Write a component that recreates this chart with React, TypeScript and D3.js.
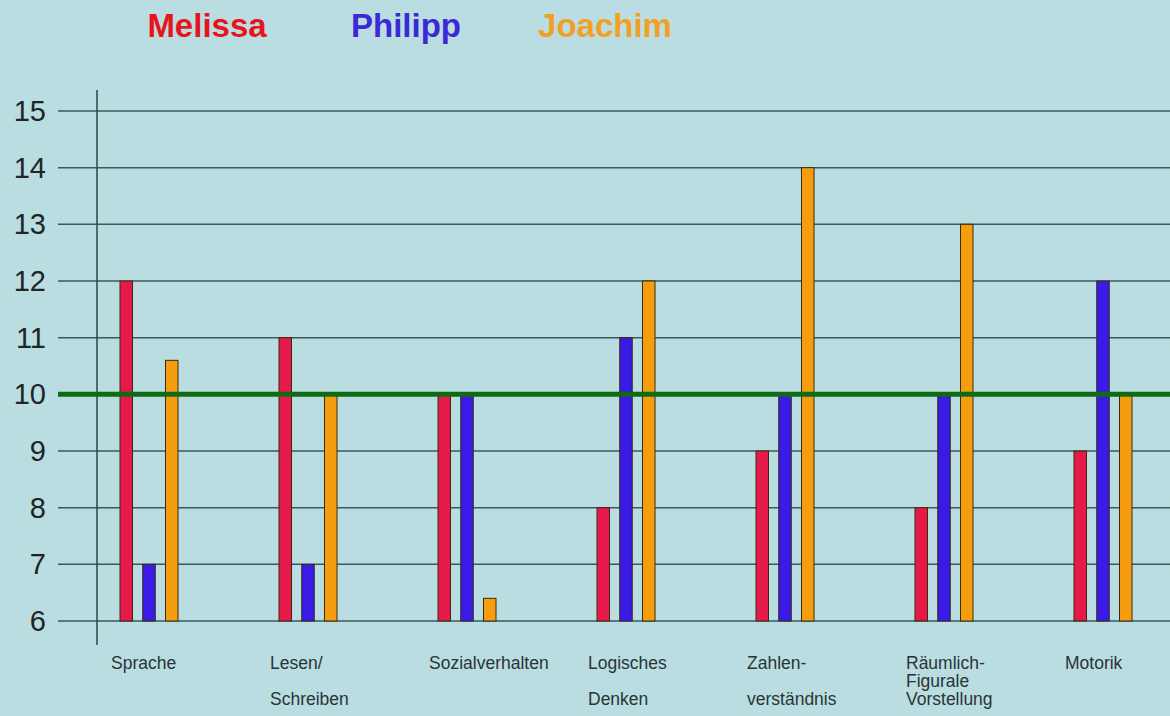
import React, { useEffect } from "react";
import * as d3 from "d3";

const categories = [
  ["Sprache"],
  ["Lesen/", "Schreiben"],
  ["Sozialverhalten"],
  ["Logisches", "Denken"],
  ["Zahlen-", "verständnis"],
  ["Räumlich-", "Figurale", "Vorstellung"],
  ["Motorik"],
];
const seriesNames = ["Melissa", "Philipp", "Joachim"];
const melissa = [12, 11, 10, 8, 9, 8, 9];
const philipp = [7, 7, 10, 11, 10, 10, 12];
const joachim = [10.6, 10, 6.4, 12, 14, 13, 10];
const yTicks = [6, 7, 8, 9, 10, 11, 12, 13, 14, 15];
const referenceValue = 10;

const W = 1170;
const H = 716;
const barColors = ["#e6194b", "#3a1ae6", "#f59d0e"];
const legendColors = ["#e8141c", "#3b28d6", "#f2a024"];
const font = "'Liberation Sans', Arial, sans-serif";

export default function App() {
  useEffect(() => {
    document.body.style.margin = "0";
  }, []);

  const series = [melissa, philipp, joachim];
  const idx = categories.map((_, i) => i);
  const x = d3.scalePoint<number>().domain(idx).range([149, 1103]);
  const inner = d3.scaleBand<number>().domain([0, 1, 2]).range([-29, 29]).paddingInner(0.45);
  const y = d3.scaleLinear().domain([6, 15]).range([621, 111]);
  const legendX = d3.scalePoint<number>().domain([0, 1, 2]).range([207, 605]);

  return (
    <svg width={W} height={H} style={{ display: "block" }}>
      <rect width={W} height={H} fill="#b9dde1" />
      {seriesNames.map((n, i) => (
        <text key={n} x={legendX(i)} y={37} textAnchor="middle" fontFamily={font} fontWeight="bold"
          fontSize={33} fill={legendColors[i]}>{n}</text>
      ))}
      {yTicks.map((t) => (
        <g key={t}>
          <line x1={58} x2={W} y1={y(t)} y2={y(t)} stroke="#3d585c" strokeWidth={1.5} />
          <text x={46} y={y(t) + 10} textAnchor="end" fontFamily={font} fontSize={29} fill="#1e2526">{t}</text>
        </g>
      ))}
      <line x1={97} x2={97} y1={90} y2={645} stroke="#2f4346" strokeWidth={1.5} />
      {idx.map((ci) => (
        <g key={ci}>
          {series.map((s, si) => (
            <rect key={si}
              x={(x(ci) as number) + (inner(si) as number)}
              width={inner.bandwidth()}
              y={y(s[ci])}
              height={y(6) - y(s[ci])}
              fill={barColors[si]} stroke="#3a2a10" strokeWidth={1} />
          ))}
        </g>
      ))}
      <line x1={58} x2={W} y1={y(referenceValue)} y2={y(referenceValue)} stroke="#0f6b12" strokeWidth={5} />
      {categories.map((lines, ci) => {
        const n = lines.length;
        const lh = n === 3 ? 18 : 36;
        return (
          <text key={ci} fontFamily={font} fontSize={17.5} fill="#2a3436">
            {lines.map((l, li) => (
              <tspan key={li} x={(x(ci) as number) - 38} y={669 + li * lh}>{l}</tspan>
            ))}
          </text>
        );
      })}
    </svg>
  );
}
